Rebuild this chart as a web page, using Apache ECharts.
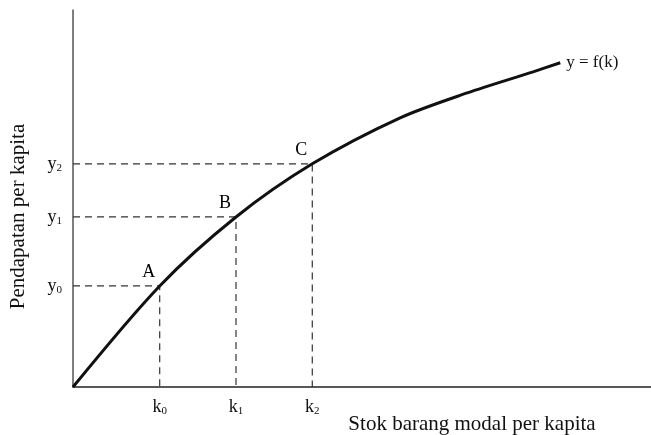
<!DOCTYPE html>
<html>
<head>
<meta charset="utf-8">
<script src="https://cdn.jsdelivr.net/npm/echarts@6/dist/echarts.min.js"></script>
<style>
  html, body { margin: 0; padding: 0; background: #fff; }
  #chart { width: 651px; height: 435px; }
</style>
</head>
<body>
<div id="chart"></div>
<script>
// kurva y = f(k)
var curveK = [0, 15, 28.2, 41.4, 56.6, 68.2, 79.6, 84.3]
var curveY = [0, 26.8, 45.1, 59.2, 71.4, 78.0, 83.6, 86.0]

// titik A, B, C
var pointNames = ['A', 'B', 'C']
var pointK = [15, 28.2, 41.4]
var pointY = [26.8, 45.1, 59.2]

// label sumbu
var kLabels = ['k0', 'k1', 'k2']
var yLabels = ['y0', 'y1', 'y2']

var serif = '"Liberation Serif", "DejaVu Serif", serif'

function subLabel(val, values, labels) {
  var i = values.indexOf(val)
  if (i < 0) return ''
  var s = labels[i]
  return '{m|' + s.charAt(0) + '}{s|' + s.slice(1) + '}'
}

var richText = {
  m: { fontFamily: serif, fontSize: 18, color: '#111' },
  s: { fontFamily: serif, fontSize: 11, color: '#111', verticalAlign: 'bottom', padding: [9, 0, 0, 0] }
}

var series = [
  {
    name: 'f(k)',
    type: 'line',
    smooth: 0.3,
    symbol: 'none',
    lineStyle: { color: '#111', width: 3 },
    data: curveK.map(function (k, i) { return [k, curveY[i]] }),
    endLabel: {
      show: true,
      formatter: 'y = f(k)',
      distance: 6,
      fontFamily: serif,
      fontSize: 17,
      color: '#111'
    },
    z: 5
  }
]

// garis putus-putus
pointK.forEach(function (k, i) {
  series.push({
    type: 'line',
    symbol: 'none',
    silent: true,
    lineStyle: { color: '#333', width: 1.2, type: [7, 5] },
    data: [[0, pointY[i]], [k, pointY[i]], [k, 0]],
    z: 3
  })
})

series.push({
  type: 'scatter',
  symbolSize: 0,
  itemStyle: { color: '#111' },
  data: pointK.map(function (k, i) { return { value: [k, pointY[i]], name: pointNames[i] } }),
  label: {
    show: true,
    position: 'top',
    offset: [-11, 0],
    formatter: '{b}',
    fontFamily: serif,
    fontSize: 18,
    color: '#000',
    opacity: 1
  }
})

var chart = echarts.init(document.getElementById('chart'))
chart.setOption({
  animation: false,
  backgroundColor: '#fff',
  grid: { left: 73, right: 0, top: 10, bottom: 48, outerBoundsMode: 'none', containLabel: false },
  xAxis: {
    type: 'value',
    min: 0,
    max: 100,
    name: 'Stok barang modal per kapita',
    nameLocation: 'middle',
    nameGap: 27,
    nameMoveOverlap: false,
    nameTextStyle: { fontFamily: serif, fontSize: 21, color: '#111', padding: [0, 0, 0, 220] },
    axisLine: { show: true, lineStyle: { color: '#222', width: 1.5 } },
    axisTick: { show: false },
    splitLine: { show: false },
    axisLabel: {
      customValues: pointK,
      margin: 10,
      formatter: function (v) { return subLabel(v, pointK, kLabels) },
      rich: richText
    }
  },
  yAxis: {
    type: 'value',
    min: 0,
    max: 100,
    name: 'Pendapatan per kapita',
    nameLocation: 'middle',
    nameGap: 44,
    nameMoveOverlap: false,
    nameTextStyle: { fontFamily: serif, fontSize: 21, color: '#111', padding: [0, 36, 0, 0] },
    axisLine: { show: true, lineStyle: { color: '#555', width: 1.5 } },
    axisTick: { show: false },
    splitLine: { show: false },
    axisLabel: {
      customValues: pointY,
      margin: 11,
      formatter: function (v) { return subLabel(v, pointY, yLabels) },
      rich: richText
    }
  },
  series: series
})
</script>
</body>
</html>
